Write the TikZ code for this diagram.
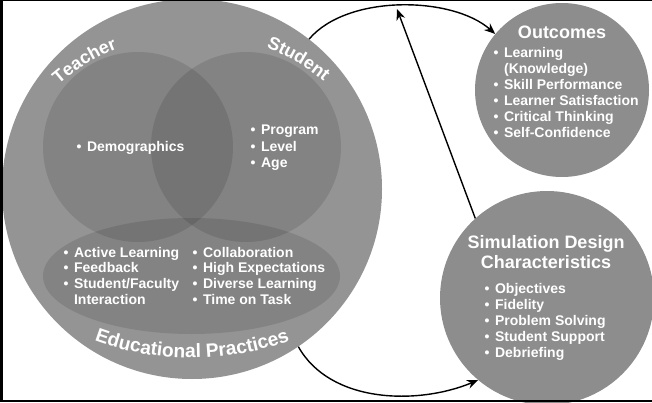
\documentclass[tikz,border=0pt]{standalone}
\usepackage{fontspec}
\setmainfont{Liberation Sans}
\usetikzlibrary{shapes.geometric,arrows.meta,decorations.text}
\definecolor{ringgray}{RGB}{148,148,148}
\definecolor{sidegray}{RGB}{141,141,141}
\begin{document}
\begin{tikzpicture}[x=1pt,y=1pt,
  disc/.style={circle, draw=none, inner sep=0pt, minimum size=#1},
  shadeover/.style={fill=black, fill opacity=0.11},
  itemtext/.style={text=white, inner sep=0pt, anchor=base west, font=\bfseries\fontsize{14}{#1}\selectfont},
  itemtext/.default=16,
  titletext/.style={text=white, inner sep=0pt, align=center, font=\bfseries\fontsize{18}{20}\selectfont},
  link/.style={line width=1.4pt, -{Stealth[length=11pt,width=9pt]}},
  arclabel/.style={decorate, decoration={text along path, text align=center, text={|\bfseries\fontsize{18}{20}\selectfont\color{white}|#1}}},
  arclabelbig/.style={decorate, decoration={text along path, text align=center, text={|\bfseries\fontsize{19.2}{21}\selectfont\color{white}|#1}}}
]
\useasboundingbox (0,0) rectangle (652,402);
\clip (0,0) rectangle (652,402);

% big Venn area
\node[disc=380, fill=ringgray] (big) at (192,213) {};
\node[disc=190, shadeover] (teacher) at (138,255) {};
\node[disc=190, shadeover] (student) at (246,255) {};
\node[ellipse, inner sep=0pt, minimum width=297, minimum height=116, shadeover] (edu) at (191.5,126) {};

% side circles
\node[disc=174, fill=sidegray] (outc) at (562,312) {};
\node[disc=214, fill=sidegray] (sim) at (547,104) {};

% curved labels
\path[arclabel=Teacher] ([shift={(141.5:204)}]193,164) arc[start angle=141.5, end angle=101.5, radius=204];
\path[arclabel=Student] ([shift={(79.5:204)}]193,164) arc[start angle=79.5, end angle=39.5, radius=204];
\path[arclabelbig={Educational Practices}] ([shift={(226:280)}]192,324) arc[start angle=226, end angle=314, radius=280];

% lists
\node[itemtext] (demo) at (76.5,250) {\begin{tabular}[t]{@{}l@{\hspace{5.5pt}}l@{}}\textbullet & Demographics\end{tabular}};
\node[itemtext=16.5] (prog) at (250.5,267) {\begin{tabular}[t]{@{}l@{\hspace{5.5pt}}l@{}}\textbullet & Program\\ \textbullet & Level\\ \textbullet & Age\end{tabular}};
\node[itemtext=15.7] (edl) at (63.5,145) {\begin{tabular}[t]{@{}l@{\hspace{5.5pt}}l@{}}\textbullet & Active Learning\\ \textbullet & Feedback\\ \textbullet & Student/Faculty\\ & Interaction\end{tabular}};
\node[itemtext=15.7] (edr) at (192.5,145) {\begin{tabular}[t]{@{}l@{\hspace{5.5pt}}l@{}}\textbullet & Collaboration\\ \textbullet & High Expectations\\ \textbullet & Diverse Learning\\ \textbullet & Time on Task\end{tabular}};

\node[titletext] (outt) at (562,370) {Outcomes};
\node[itemtext] (outl) at (493.5,344) {\begin{tabular}[t]{@{}l@{\hspace{5.5pt}}l@{}}\textbullet & Learning\\ & (Knowledge)\\ \textbullet & Skill Performance\\ \textbullet & Learner Satisfaction\\ \textbullet & Critical Thinking\\ \textbullet & Self-Confidence\end{tabular}};

\node[titletext] (simt) at (546,150) {Simulation Design\\Characteristics};
\node[itemtext] (siml) at (484.5,109) {\begin{tabular}[t]{@{}l@{\hspace{5.5pt}}l@{}}\textbullet & Objectives\\ \textbullet & Fidelity\\ \textbullet & Problem Solving\\ \textbullet & Student Support\\ \textbullet & Debriefing\end{tabular}};

% connectors
\coordinate (peak) at (397,393);
\draw[link] (big.52) .. controls +(38,45) and +(-43,38) .. (outc.140);
\draw[link] (sim.132) -- (peak);
\draw[link] (big.-56) .. controls +(32,-57) and +(-60,-25) .. (sim.230);

% frame
\fill[black] (0,400.5) rectangle (652,402);
\fill[black] (0,0) rectangle (2.5,402);
\fill[black] (0,0) rectangle (652,2);
\end{tikzpicture}
\end{document}
